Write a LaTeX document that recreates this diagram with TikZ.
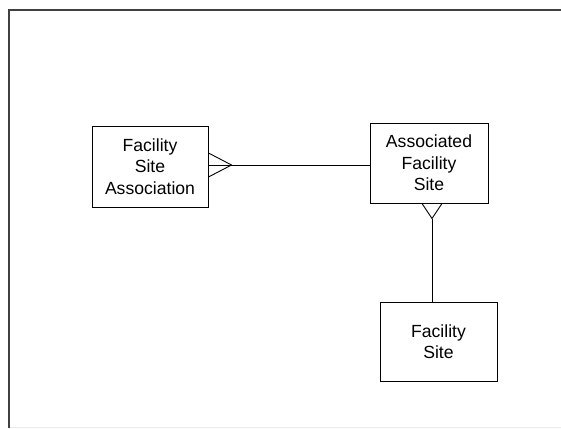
\documentclass[tikz,border=0pt]{standalone}
\usepackage{fontspec}
\setmainfont{Liberation Sans}
\usetikzlibrary{calc}
\begin{document}
\begin{tikzpicture}[x=1pt,y=-1pt,
  entity/.style={draw=black, line width=1pt, fill=white, align=center,
    font=\fontsize{17.6}{21.5}\selectfont, inner sep=0pt},
  link/.style={draw=black, line width=0.9pt},
  frameline/.style={draw=black!75, line width=1.3pt}]
\useasboundingbox (0,0) rectangle (561,428);
\fill[white] (0,0) rectangle (561,428);
% frame
\coordinate (fbl) at (9,428);
\coordinate (ftl) at (9,10);
\coordinate (ftr) at (561,10);
\draw[frameline] (fbl) -- (ftl) -- (ftr);
\coordinate (bl) at (10,427.5);
\coordinate (br) at (561,427.5);
\draw[black!8, line width=0.8pt] (bl) -- (br);
% entities
\node[entity, minimum width=116pt, minimum height=81pt] (fsa) at (150,166.5) {Facility\\Site\\Association};
\node[entity, minimum width=118pt, minimum height=80pt] (afs) at (429,163) {Associated\\Facility\\Site};
\node[entity, minimum width=117pt, minimum height=79pt] (fs) at (438.5,341.5) {Facility\\Site};
% connectors
\coordinate (p1) at ($(fsa.east)+(0,-1.5)$);
\coordinate (p2) at ($(afs.west)+(0,2)$);
\draw[link] (p1) -- (p2);
\draw[link] ($(p1)+(0,-12)$) -- ($(p1)+(23,0)$) -- ($(p1)+(0,12)$);
\coordinate (q1) at ($(afs.south)+(3,0)$);
\coordinate (q2) at ($(fs.north)+(-6.5,0)$);
\coordinate (qa) at ($(q1)+(0,15)$);
\draw[link] (qa) -- (q2);
\draw[link] ($(q1)+(-10,0)$) -- (qa) -- ($(q1)+(10,0)$);
\end{tikzpicture}
\end{document}
